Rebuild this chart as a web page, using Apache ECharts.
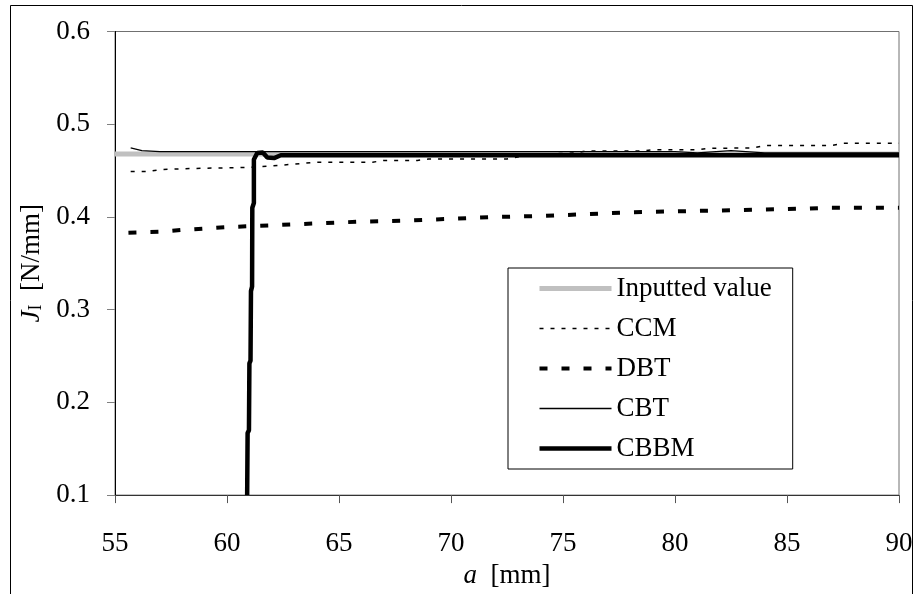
<!DOCTYPE html>
<html>
<head>
<meta charset="utf-8">
<script src="https://cdn.jsdelivr.net/npm/echarts@6/dist/echarts.min.js"></script>
<style>
	html, body { margin: 0; padding: 0; background: #fff; }
	#main { width: 917px; height: 594px; }
</style>
</head>
<body>
<div id="main"></div>
<script>
	// crack length a [mm] and J_I [N/mm]
	var inputA = [55, 90];
	var inputJ = [0.468, 0.468];

	var ccmA = [55.7, 56.5, 57, 58, 59, 60, 61, 62, 63, 64, 66.5, 67, 68.5, 69, 72.5, 73.5, 75.5, 76, 78.5, 79, 81, 81.5, 83.5, 84, 87, 87.5, 90];
	var ccmJ = [0.449, 0.449, 0.451, 0.452, 0.4525, 0.453, 0.4535, 0.455, 0.457, 0.459, 0.459, 0.461, 0.461, 0.4625, 0.4625, 0.467, 0.469, 0.471, 0.471, 0.4725, 0.4725, 0.474, 0.4745, 0.477, 0.477, 0.4795, 0.4795];

	var dbtA = [55.6, 57, 58, 59, 60, 61, 62, 63, 64, 65, 66, 68, 69, 70, 72, 74, 76, 78, 80, 82, 84, 86, 87, 90];
	var dbtJ = [0.383, 0.384, 0.386, 0.3875, 0.389, 0.390, 0.391, 0.392, 0.393, 0.394, 0.395, 0.396, 0.397, 0.398, 0.400, 0.401, 0.403, 0.405, 0.406, 0.407, 0.408, 0.409, 0.410, 0.410];

	var cbtA = [55.7, 56.2, 57, 80, 81, 82.5, 84, 90];
	var cbtJ = [0.4745, 0.4715, 0.4705, 0.4705, 0.469, 0.4715, 0.469, 0.469];

	var cbbmA = [60.9, 60.92, 60.98, 61.0, 61.05, 61.07, 61.12, 61.13, 61.2, 61.2, 61.35, 61.6, 61.8, 62.1, 62.4, 90];
	var cbbmJ = [0.1, 0.167, 0.17, 0.242, 0.245, 0.32, 0.325, 0.41, 0.415, 0.462, 0.469, 0.4695, 0.464, 0.4635, 0.4665, 0.4665];

	var seriesNames = ['Inputted value', 'CCM', 'DBT', 'CBT', 'CBBM'];
	var xTicks = [55, 90, 5];
	var yTicks = [0.1, 0.6, 0.1];

	function pairs(a, j) {
		return a.map(function(v, i) { return [v, j[i]]; });
	}

	var font = 'Liberation Serif';
	var chart = echarts.init(document.getElementById('main'));
	var option = {
		animation: false,
		backgroundColor: '#fff',
		textStyle: { fontFamily: font },
		graphic: [{
			type: 'rect',
			shape: { x: 10.5, y: 5.5, width: 902, height: 620 },
			style: { fill: 'none', stroke: '#000', lineWidth: 1 },
			silent: true
		}],
		grid: {
			left: 115,
			right: 18,
			top: 31.5,
			bottom: 98.5,
			show: true,
			borderColor: '#707070',
			borderWidth: 1
		},
		legend: {
			orient: 'vertical',
			left: 508,
			top: 268,
			padding: [7, 21, 7, 29],
			borderColor: '#000',
			borderWidth: 1,
			itemWidth: 72,
			itemHeight: 14,
			itemGap: 13,
			selectedMode: false,
			itemStyle: { opacity: 0 },
			lineStyle: { width: 'inherit' },
			textStyle: { fontFamily: font, fontSize: 27, lineHeight: 27, color: '#000' },
			data: seriesNames
		},
		xAxis: {
			type: 'value',
			min: xTicks[0],
			max: xTicks[1],
			interval: xTicks[2],
			name: '{i|a}  [mm]',
			nameLocation: 'middle',
			nameGap: 53,
			nameTextStyle: {
				fontFamily: font, fontSize: 27, color: '#000',
				rich: { i: { fontFamily: font, fontSize: 27, fontStyle: 'italic' } }
			},
			axisLine: { lineStyle: { color: '#333', width: 1 } },
			axisTick: { length: 8, lineStyle: { color: '#555' } },
			axisLabel: { fontFamily: font, fontSize: 27, color: '#000', margin: 35 },
			splitLine: { show: false }
		},
		yAxis: {
			type: 'value',
			min: yTicks[0],
			max: yTicks[1],
			interval: yTicks[2],
			name: '{i|J}{s|I}  [N/mm]',
			nameLocation: 'middle',
			nameGap: 57,
			nameTextStyle: {
				fontFamily: font, fontSize: 27, color: '#000', lineHeight: 27,
				rich: {
					i: { fontFamily: font, fontSize: 27, fontStyle: 'italic', lineHeight: 27 },
					s: { fontFamily: font, fontSize: 18, lineHeight: 18, verticalAlign: 'bottom' }
				}
			},
			axisLine: { show: true, lineStyle: { color: '#000', width: 1 } },
			axisTick: { length: 8, lineStyle: { color: '#808080' } },
			axisLabel: {
				fontFamily: font, fontSize: 27, color: '#000', margin: 25,
				formatter: function(v) { return v.toFixed(1); }
			},
			splitLine: { show: false }
		},
		series: [{
				name: seriesNames[0],
				type: 'line',
				symbol: 'none',
				data: pairs(inputA, inputJ),
				lineStyle: { color: '#c0c0c0', width: 5 },
				itemStyle: { color: '#c0c0c0' }
			},
			{
				name: seriesNames[1],
				type: 'line',
				symbol: 'none',
				data: pairs(ccmA, ccmJ),
				lineStyle: { color: '#000', width: 1.5, type: [4, 7] },
				itemStyle: { color: '#000' }
			},
			{
				name: seriesNames[2],
				type: 'line',
				symbol: 'none',
				data: pairs(dbtA, dbtJ),
				lineStyle: { color: '#000', width: 4, type: [8, 14] },
				itemStyle: { color: '#000' }
			},
			{
				name: seriesNames[3],
				type: 'line',
				symbol: 'none',
				data: pairs(cbtA, cbtJ),
				lineStyle: { color: '#000', width: 1.3 },
				itemStyle: { color: '#000' }
			},
			{
				name: seriesNames[4],
				type: 'line',
				symbol: 'none',
				data: pairs(cbbmA, cbbmJ),
				lineStyle: { color: '#000', width: 4.5 },
				itemStyle: { color: '#000' }
			}
		]
	};
	chart.setOption(option);
</script>
</body>
</html>
